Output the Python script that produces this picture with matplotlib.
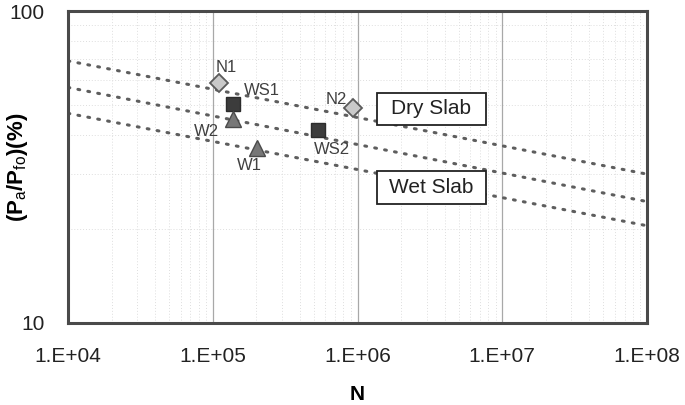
"""
Fatigue life plot: stress ratio vs number of cycles for dry/wet slabs.
"""

import matplotlib
matplotlib.use("Agg")
import matplotlib.pyplot as plt
from matplotlib.ticker import FixedLocator, LogLocator, NullFormatter
from matplotlib.patches import Rectangle

plt.rcParams["font.family"] = ["Liberation Sans", "DejaVu Sans"]
plt.rcParams["mathtext.fontset"] = "custom"
plt.rcParams["mathtext.rm"] = "Liberation Sans"

# test points
names = ["N1", "N2", "WS1", "WS2", "W1", "W2"]
cycles = [1.105e5, 9.35e5, 1.373e5, 5.36e5, 2.01e5, 1.387e5]
ratio = [58.7, 48.8, 50.3, 41.6, 36.4, 45.1]
kinds = ["dry", "dry", "ws", "ws", "wet", "wet"]

# fatigue lines (end points at N = 1e4 and 1e8)
line_n = [1e4, 1e8]
dry_line = [69.2, 30.0]
mid_line = [56.9, 24.5]
wet_line = [47.0, 20.5]

x_ticks = [1e4, 1e5, 1e6, 1e7, 1e8]
x_labels = ["1.E+04", "1.E+05", "1.E+06", "1.E+07", "1.E+08"]
y_ticks = [10, 100]
y_labels = ["10", "100"]

styles = {
    "dry": dict(marker="D", ms=9, mfc="#c9c9c9", mec="#5a5a5a", mew=1.3),
    "ws": dict(marker="s", ms=10, mfc="#3c3c3c", mec="#2c2c2c", mew=1.0),
    "wet": dict(marker="^", ms=11, mfc="#777777", mec="#4a4a4a", mew=1.0),
}

# label offsets in points from each marker
offsets = {
    "N1": (5, 11), "WS1": (21, 10), "N2": (-12, 6),
    "W2": (-19, -9), "W1": (-5, -13), "WS2": (10, -14),
}

fig = plt.figure(figsize=(6.85, 4.05), dpi=100)
ax = fig.add_axes([0.0993, 0.2025, 0.8452, 0.7703])
ax.set_xscale("log")
ax.set_yscale("log")
ax.set_xlim(1e4, 1e8)
ax.set_ylim(10, 100)

# grid
ax.xaxis.set_major_locator(FixedLocator(x_ticks))
ax.xaxis.set_minor_locator(LogLocator(base=10, subs=range(2, 10)))
ax.yaxis.set_major_locator(FixedLocator(y_ticks))
ax.yaxis.set_minor_locator(LogLocator(base=10, subs=range(2, 10)))
ax.xaxis.set_minor_formatter(NullFormatter())
ax.yaxis.set_minor_formatter(NullFormatter())
ax.grid(True, which="major", axis="x", color="#a8a8a8", lw=0.9, ls="-")
ax.grid(True, which="minor", color="#dedede", lw=0.7, ls=(0, (1, 2)))
ax.set_axisbelow(True)

ax.set_xticklabels(x_labels)
ax.set_yticklabels(y_labels)
ax.tick_params(which="both", length=0, labelsize=15, pad=17, colors="#222222")

for s in ax.spines.values():
    s.set_color("#4a4a4a")
    s.set_linewidth(2.2)

for vals in (dry_line, mid_line, wet_line):
    ax.plot(line_n, vals, color="#5e5e5e", lw=2.2, ls=(0, (0.6, 2.7)),
            dash_capstyle="round", zorder=2)

for name, n, r, k in zip(names, cycles, ratio, kinds):
    ax.plot([n], [r], ls="none", zorder=4, **styles[k])
    ax.annotate(name, (n, r), xytext=offsets[name], textcoords="offset points",
                ha="center", va="center", fontsize=12, color="#404040", zorder=5)

# boxed labels
for txt, y0, y1 in (("Dry Slab", 0.635, 0.737), ("Wet Slab", 0.381, 0.487)):
    ax.add_patch(Rectangle((0.5337, y0), 0.1882, y1 - y0, transform=ax.transAxes,
                           facecolor="white", edgecolor="#222222", lw=1.3, zorder=6))
    ax.text(0.5337 + 0.0941, (y0 + y1) / 2, txt, transform=ax.transAxes,
            ha="center", va="center", fontsize=15, color="#222222", zorder=7)

ax.set_xlabel("N", fontsize=15, fontweight="bold")
ax.set_ylabel(r"(P$_\mathrm{a}$/P$_\mathrm{fo}$)(%)", fontsize=16,
              fontweight="bold")
ax.xaxis.set_label_coords(0.5, -0.20)
ax.yaxis.set_label_coords(-0.066, 0.5)

fig.savefig("out.png", dpi=100)
